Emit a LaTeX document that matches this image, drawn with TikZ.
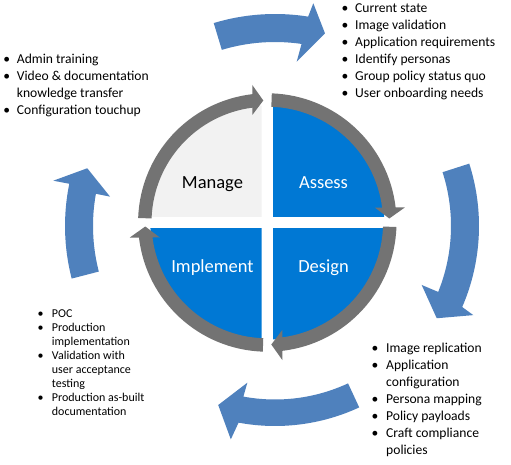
\documentclass[tikz,border=0pt]{standalone}
\usepackage{fontspec}
\setmainfont{Carlito}
\definecolor{qblue}{HTML}{0078D4}
\definecolor{qlight}{HTML}{F2F2F2}
\definecolor{ringgray}{HTML}{737373}
\definecolor{outerblue}{HTML}{4F81BD}
\tikzset{
  big/.style={font=\fontsize{13.6}{17}\selectfont, inner sep=0},
  small/.style={font=\fontsize{12}{14}\selectfont, inner sep=0},
  itemtxt/.style={anchor=base west},
  bul/.style={anchor=base},
  phase/.style={font=\fontsize{18.5}{22}\selectfont, inner sep=0, anchor=base},
  outerarrow/.style={fill=outerblue},
  ringarrow/.style={fill=ringgray},
}
\newcommand{\myringarrow}{\fill[ringarrow] (178:129.2) arc[start angle=178,end angle=96.67,radius=129.2] -- (-15,137.5) -- (-4,122) -- (-15,107.5) -- (97.44:115.8) arc[start angle=97.44,end angle=178,radius=115.8] -- cycle;}
\begin{document}
\begin{tikzpicture}[x=1pt,y=1pt]
\useasboundingbox (0,0) rectangle (511,-465);
\fill[white] (0,0) rectangle (511,-465);
% outer curved arrows
\begin{scope}[shift={(275,-226)}]
  % top
  \fill[outerarrow] (106.8:212) arc[start angle=106.8,end angle=81.0,radius=212] -- (80.24:226) -- (75.45:199) -- (82.48:165.7) -- (81.7:184) arc[start angle=81.7,end angle=106.8,radius=184] -- cycle;
  % right
  \fill[outerarrow] (17.8:204) arc[start angle=17.8,end angle=-23.4,radius=204] -- (-24.2:217.4) -- (-29.7:186.2) -- (-21.9:158.1) -- (-22:176) arc[start angle=-22,end angle=17.8,radius=176] -- cycle;
  % bottom
  \fill[outerarrow] (-65.1:200) arc[start angle=-65.1,end angle=-100.5,radius=200] -- (-101.7:217.9) -- (-107.6:187.8) -- (-100:159.1) -- (-100.5:173.5) arc[start angle=-100.5,end angle=-65.1,radius=173.5] -- cycle;
  % left
  \fill[outerarrow] (194.5:210) arc[start angle=194.5,end angle=168.4,radius=210] -- (168.45:226.3) -- (162.9:196.4) -- (169.9:167.6) -- (169.8:182) arc[start angle=169.8,end angle=194.5,radius=182] -- cycle;
\end{scope}
% quadrants and ring
\begin{scope}[shift={(267.3,-222.5)}]
  \begin{scope}\clip (5.8,5.8) rectangle (140,140); \fill[qblue] (0,0) circle[radius=117];\end{scope}
  \begin{scope}\clip (-5.8,5.8) rectangle (-140,140); \fill[qlight] (0,0) circle[radius=117];\end{scope}
  \begin{scope}\clip (-5.8,-5.8) rectangle (-140,-140); \fill[qblue] (0,0) circle[radius=117];\end{scope}
  \begin{scope}\clip (5.8,-5.8) rectangle (140,-140); \fill[qblue] (0,0) circle[radius=117];\end{scope}
  \foreach \rot in {0,-90,-180,-270}{
    \begin{scope}[rotate=\rot]\myringarrow\end{scope}
  }
\end{scope}
% phase labels
\node[phase, text=black] (manage) at (212.5,-189) {Manage};
\node[phase, text=white] (assess) at (323.5,-189) {Assess};
\node[phase, text=white] (implement) at (212.5,-272) {Implement};
\node[phase, text=white] (design) at (323.5,-272) {Design};
% top right list
\node[big,bul] (trb1) at (345,-12.5) {•};
\node[big,itemtxt] (tr1) at (355,-12.5) {Current state};
\node[big,bul] (trb2) at (345,-29.5) {•};
\node[big,itemtxt] (tr2) at (355,-29.5) {Image validation};
\node[big,bul] (trb3) at (345,-46.5) {•};
\node[big,itemtxt] (tr3) at (355,-46.5) {Application requirements};
\node[big,bul] (trb4) at (345,-63.5) {•};
\node[big,itemtxt] (tr4) at (355,-63.5) {Identify personas};
\node[big,bul] (trb5) at (345,-80.5) {•};
\node[big,itemtxt] (tr5) at (355,-80.5) {Group policy status quo};
\node[big,bul] (trb6) at (345,-97.5) {•};
\node[big,itemtxt] (tr6) at (355,-97.5) {User onboarding needs};
% top left list
\node[big,bul] (tlb1) at (6.7,-63.5) {•};
\node[big,itemtxt] (tl1) at (16.7,-63.5) {Admin training};
\node[big,bul] (tlb2) at (6.7,-80.5) {•};
\node[big,itemtxt] (tl2) at (16.7,-80.5) {Video \& documentation};
\node[big,itemtxt] (tl2b) at (16.7,-97.5) {knowledge transfer};
\node[big,bul] (tlb3) at (6.7,-114.5) {•};
\node[big,itemtxt] (tl3) at (16.7,-114.5) {Configuration touchup};
% bottom left list
\node[small,bul] (blb1) at (40.7,-317.7) {•};
\node[small,itemtxt] (bl1) at (51.7,-317.7) {POC};
\node[small,bul] (blb2) at (40.7,-331.7) {•};
\node[small,itemtxt] (bl2) at (51.7,-331.7) {Production};
\node[small,itemtxt] (bl2b) at (51.7,-345.7) {implementation};
\node[small,bul] (blb3) at (40.7,-359.7) {•};
\node[small,itemtxt] (bl3) at (51.7,-359.7) {Validation with};
\node[small,itemtxt] (bl3b) at (51.7,-373.7) {user acceptance};
\node[small,itemtxt] (bl3c) at (51.7,-387.7) {testing};
\node[small,bul] (blb4) at (40.7,-401.7) {•};
\node[small,itemtxt] (bl4) at (51.7,-401.7) {Production as-built};
\node[small,itemtxt] (bl4b) at (51.7,-415.7) {documentation};
% bottom right list
\node[big,bul] (brb1) at (375,-352.7) {•};
\node[big,itemtxt] (br1) at (386,-352.7) {Image replication};
\node[big,bul] (brb2) at (375,-369.7) {•};
\node[big,itemtxt] (br2) at (386,-369.7) {Application};
\node[big,itemtxt] (br2b) at (386,-386.7) {configuration};
\node[big,bul] (brb3) at (375,-403.7) {•};
\node[big,itemtxt] (br3) at (386,-403.7) {Persona mapping};
\node[big,bul] (brb4) at (375,-420.7) {•};
\node[big,itemtxt] (br4) at (386,-420.7) {Policy payloads};
\node[big,bul] (brb5) at (375,-437.7) {•};
\node[big,itemtxt] (br5) at (386,-437.7) {Craft compliance};
\node[big,itemtxt] (br5b) at (386,-454.7) {policies};
\end{tikzpicture}
\end{document}
